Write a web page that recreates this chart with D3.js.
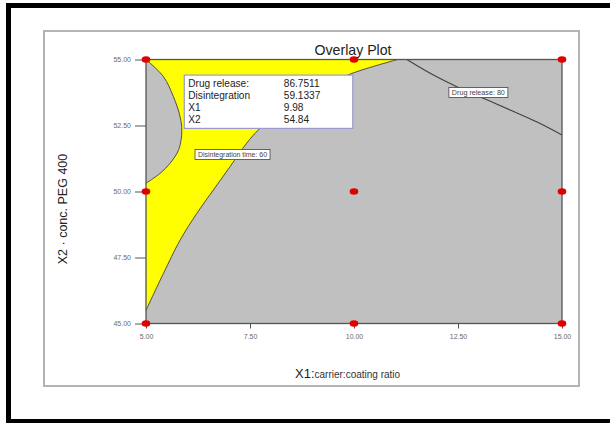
<!DOCTYPE html>
<html lang="en">
<head>
    <meta charset="UTF-8">
    <title>Overlay Plot</title>
    <script src="https://d3js.org/d3.v7.min.js"></script>
    <style>
        body { margin: 0; background: #fff; font-family: "Liberation Sans", Arial, sans-serif; }
        svg { display: block; }
    </style>
</head>
<body>
    <div id="chart"></div>

    <script>
        // design points (X1 carrier:coating ratio, X2 conc. PEG 400)
        const x1Levels = [5, 10, 15];
        const x2Levels = [45, 50, 55];
        const x1Ticks = [5, 7.5, 10, 12.5, 15];
        const x2Ticks = [45, 47.5, 50, 52.5, 55];

        // "Disintegration time: 60" contour, lobe on the left edge
        const disintLobe = [[5.0, 55.0], [5.42, 54.35], [5.66, 53.59], [5.82, 52.83], [5.86, 52.29],
            [5.79, 51.6], [5.58, 51.07], [5.34, 50.69], [5.0, 50.31]];

        // right boundary of the yellow (desirable) region
        const yellowEdge = [[5.0, 45.5], [5.42, 46.9], [5.82, 48.16], [6.22, 49.17], [6.62, 50.06],
            [7.02, 50.94], [7.42, 51.83], [7.74, 52.39], [8.5, 53.3], [9.2, 53.95], [9.98, 54.49], [11.05, 55.0]];

        // "Drug release: 80" contour
        const releaseLine = [[11.27, 55.0], [11.91, 54.41], [12.47, 53.97], [13.11, 53.53],
            [13.75, 53.09], [14.39, 52.64], [15.0, 52.14]];

        const flagLabels = ["Drug release:", "Disintegration", "X1", "X2"];
        const flagValues = ["86.7511", "59.1337", "9.98", "54.84"];

        const width = 610, height = 423;
        const svg = d3.select("#chart").append("svg")
            .attr("width", width)
            .attr("height", height);

        // outer black frame (left, top, bottom)
        svg.append("rect").attr("x", 6).attr("y", 3).attr("width", 5).attr("height", 420).attr("fill", "#000");
        svg.append("rect").attr("x", 6).attr("y", 3).attr("width", 604).attr("height", 5).attr("fill", "#000");
        svg.append("rect").attr("x", 6).attr("y", 419).attr("width", 604).attr("height", 4).attr("fill", "#000");

        // grey panel frame
        svg.append("rect")
            .attr("x", 44).attr("y", 31).attr("width", 535).attr("height", 355)
            .attr("fill", "none").attr("stroke", "#b4b4b4").attr("stroke-width", 2);

        const x = d3.scaleLinear().domain([5, 15]).range([146, 562]);
        const y = d3.scaleLinear().domain([45, 55]).range([323.5, 59.5]);

        const plot = svg.append("g");

        // grey background of the design space
        plot.append("rect")
            .attr("x", x(5)).attr("y", y(55))
            .attr("width", x(15) - x(5)).attr("height", y(45) - y(55))
            .attr("fill", "#c0c0c0");

        const curve = d3.line().x(d => x(d[0])).y(d => y(d[1])).curve(d3.curveCatmullRom);

        // yellow region: left edge + top edge + yellow boundary
        const yellowPath = curve(yellowEdge) + "L" + x(5) + "," + y(55) + "Z";
        plot.append("path").attr("d", yellowPath).attr("fill", "#ffff00");
        plot.append("path").attr("d", curve(yellowEdge))
            .attr("fill", "none").attr("stroke", "#404040").attr("stroke-width", 0.9);

        // grey lobe on the left
        plot.append("path").attr("d", curve(disintLobe) + "Z").attr("fill", "#c0c0c0");
        plot.append("path").attr("d", curve(disintLobe))
            .attr("fill", "none").attr("stroke", "#404040").attr("stroke-width", 0.9);

        // drug release contour
        plot.append("path").attr("d", curve(releaseLine))
            .attr("fill", "none").attr("stroke", "#404040").attr("stroke-width", 1.1);

        // plot border
        plot.append("rect")
            .attr("x", x(5)).attr("y", y(55))
            .attr("width", x(15) - x(5)).attr("height", y(45) - y(55))
            .attr("fill", "none").attr("stroke", "#555").attr("stroke-width", 1.3);

        // axes
        const xAxis = svg.append("g")
            .attr("transform", `translate(0,${y(45)})`)
            .call(d3.axisBottom(x).tickValues(x1Ticks).tickFormat(d3.format(".2f")).tickSize(5).tickPadding(6));
        const yAxis = svg.append("g")
            .attr("transform", `translate(${x(5)},0)`)
            .call(d3.axisLeft(y).tickValues(x2Ticks).tickFormat(d3.format(".2f")).tickSize(11).tickPadding(4));
        [xAxis, yAxis].forEach(a => {
            a.select(".domain").remove();
            a.selectAll(".tick line").attr("stroke", "#555");
            a.selectAll(".tick text")
                .attr("fill", "#6a6a6a")
                .style("font-size", "7px")
                .style("font-family", "'Liberation Sans', Arial, sans-serif");
        });

        // contour labels
        function contourLabel(text, cx, cy, w) {
            const g = svg.append("g");
            g.append("rect")
                .attr("x", x(cx) - w / 2).attr("y", y(cy) - 5)
                .attr("width", w).attr("height", 10)
                .attr("fill", "#fff").attr("stroke", "#444").attr("stroke-width", 0.8);
            g.append("text")
                .attr("x", x(cx)).attr("y", y(cy) + 2.5)
                .attr("text-anchor", "middle")
                .attr("font-size", "7px").attr("fill", "#444")
                .attr("textLength", w - 6).attr("lengthAdjust", "spacingAndGlyphs")
                .text(text);
        }
        contourLabel("Disintegration time: 60", 7.08, 51.40, 75);
        contourLabel("Drug release: 80", 12.99, 53.75, 59);

        // flag box
        const flag = svg.append("g");
        const fx = x(5.92), fy = y(54.41);
        flag.append("rect")
            .attr("x", fx).attr("y", fy)
            .attr("width", x(9.97) - fx).attr("height", y(52.39) - fy)
            .attr("fill", "#fff").attr("stroke", "#9a9ad0").attr("stroke-width", 1.2);
        flagLabels.forEach((t, i) => {
            flag.append("text")
                .attr("transform", `translate(${fx + 4},${fy + 12 + i * 12.1}) scale(0.88,1)`)
                .attr("font-size", "11.5px").attr("fill", "#222")
                .text(t);
            flag.append("text")
                .attr("transform", `translate(${fx + 99.5},${fy + 12 + i * 12.1}) scale(0.88,1)`)
                .attr("font-size", "11.5px").attr("fill", "#222")
                .text(flagValues[i]);
        });

        // design points
        const pts = [];
        x1Levels.forEach(a => x2Levels.forEach(b => pts.push([a, b])));
        svg.selectAll(".pt").data(pts).enter().append("ellipse")
            .attr("class", "pt")
            .attr("cx", d => x(d[0])).attr("cy", d => y(d[1]))
            .attr("rx", 4.3).attr("ry", 3.2)
            .attr("fill", "#e00000");

        // title and axis titles
        svg.append("text")
            .attr("x", 353).attr("y", 55)
            .attr("text-anchor", "middle")
            .attr("font-size", "15px").attr("fill", "#222")
            .attr("textLength", 77).attr("lengthAdjust", "spacingAndGlyphs")
            .text("Overlay Plot");

        const xt = svg.append("text")
            .attr("x", 295).attr("y", 378)
            .attr("fill", "#222");
        xt.append("tspan").attr("font-size", "13px").text("X1:");
        xt.append("tspan").attr("font-size", "10px").attr("fill", "#333").text("carrier:coating ratio");

        svg.append("text")
            .attr("transform", "translate(67,209) rotate(-90)")
            .attr("text-anchor", "middle")
            .attr("font-size", "12.5px").attr("fill", "#222")
            .text("X2 \u00b7 conc. PEG 400");
    </script>
</body>
</html>
